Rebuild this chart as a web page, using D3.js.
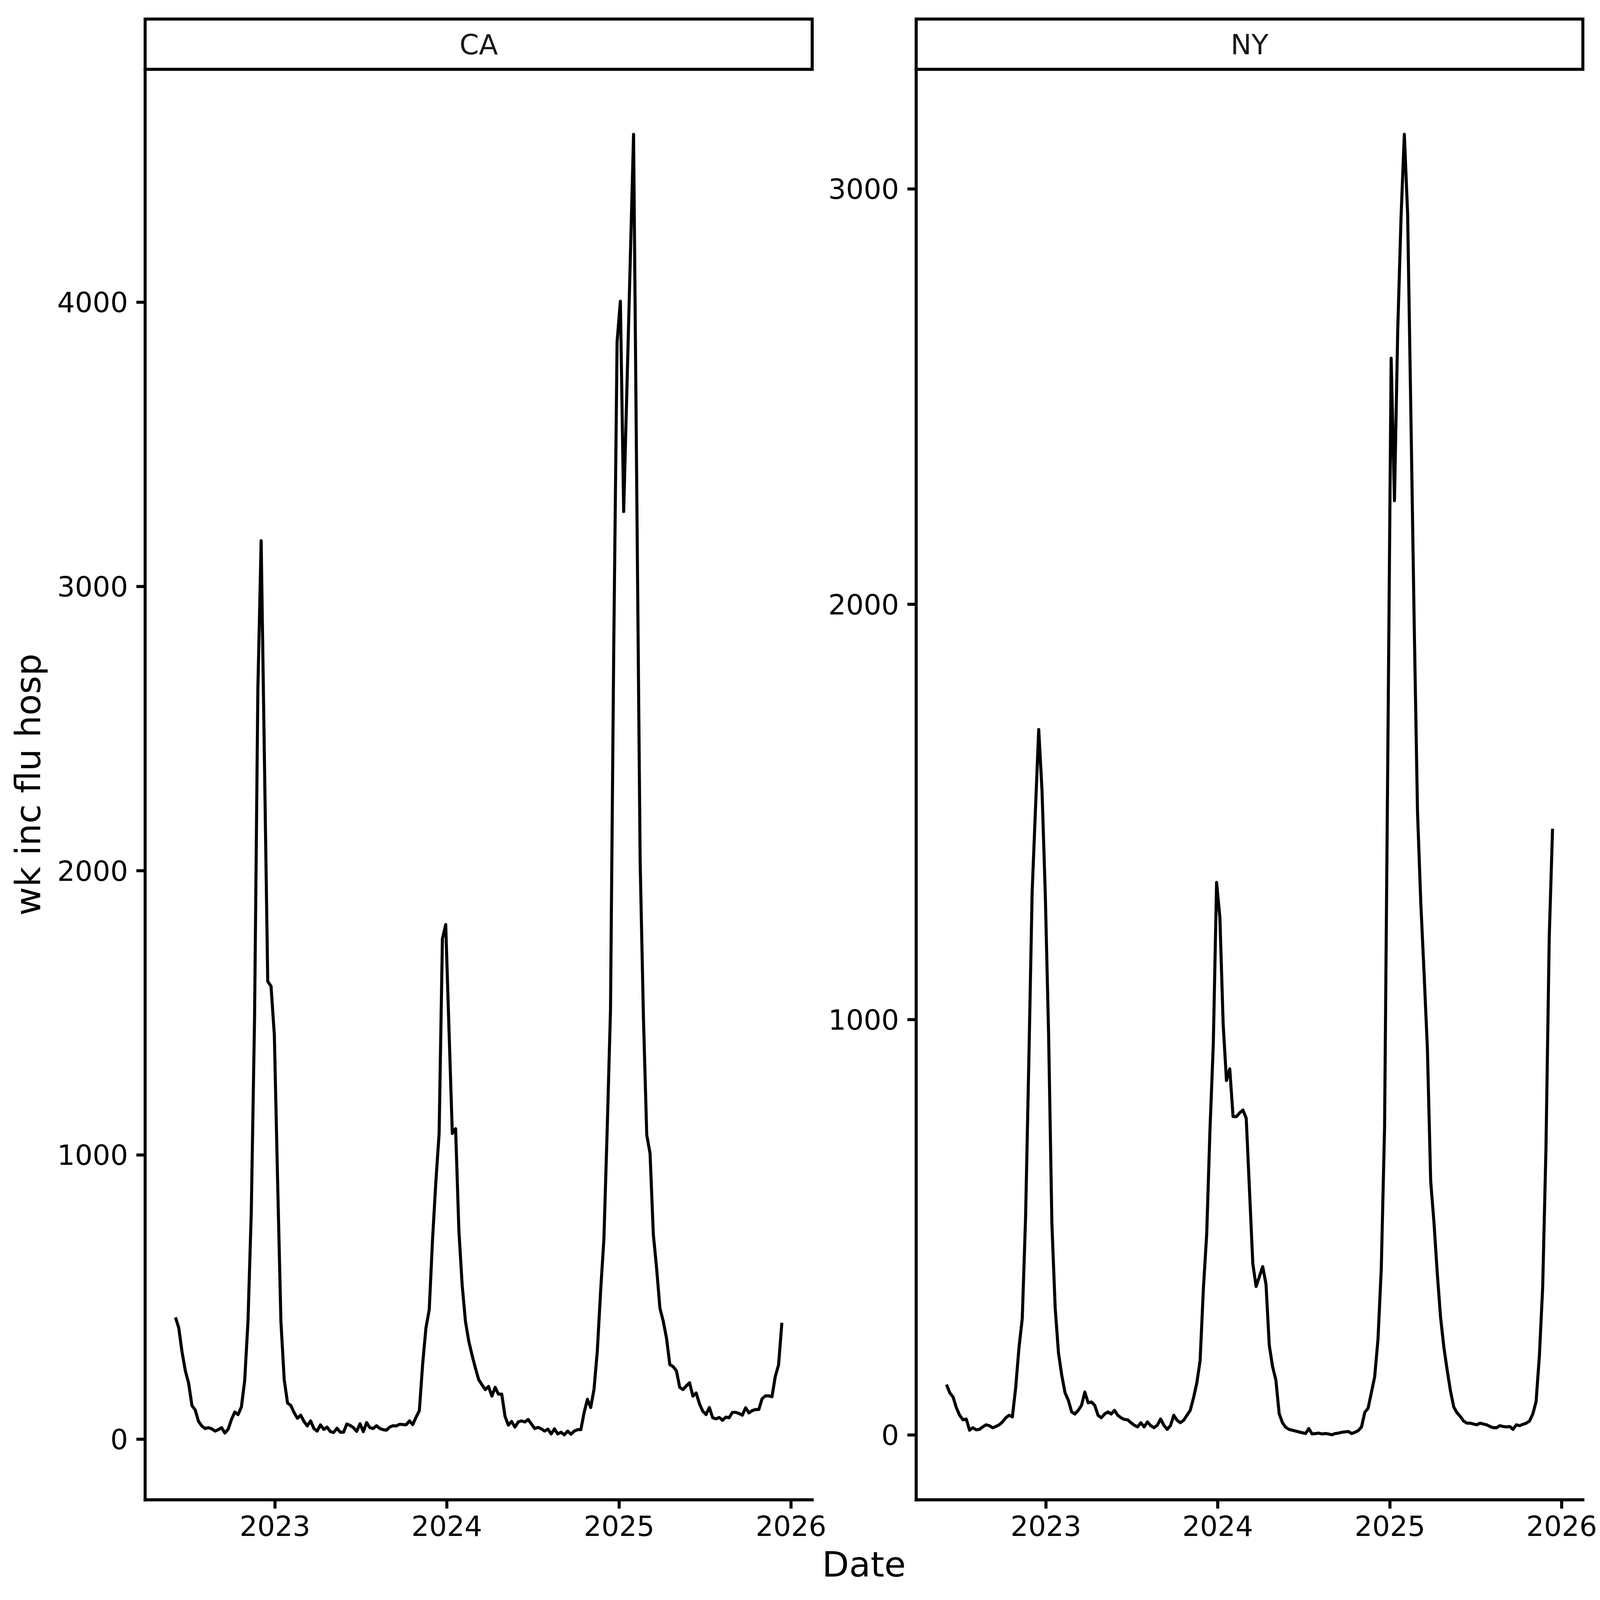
<!DOCTYPE html>
<html>
<head>
<meta charset="utf-8">
<script src="https://cdn.jsdelivr.net/npm/d3@7"></script>
<style>
  html, body { margin: 0; padding: 0; background: #fff; overflow: hidden; }
  #chart svg { display: block; width: 100vw; height: 100vh; }
  text { font-family: "DejaVu Sans", sans-serif; }
</style>
</head>
<body>
<div id="chart"></div>
<script>
// weekly series, first week ending 2022-06-04
const firstWeek = "2022-06-04";

const caValues = [
  428, 391, 306, 240, 196, 118, 102, 62, 46, 37,
  40, 36, 28, 33, 40, 21, 35, 69, 95, 86,
  113, 205, 413, 797, 1482, 2636, 3160, 2385, 1610, 1593,
  1422, 904, 413, 209, 127, 118, 93, 73, 84, 62,
  46, 64, 37, 28, 50, 34, 42, 26, 23, 38,
  24, 24, 53, 48, 40, 27, 54, 26, 58, 40,
  37, 47, 37, 33, 31, 42, 47, 46, 52, 51,
  50, 64, 51, 77, 100, 263, 391, 455, 701, 904,
  1075, 1760, 1810, 1440, 1075, 1092, 733, 541, 413, 344,
  295, 250, 209, 191, 174, 185, 151, 182, 158, 158,
  80, 49, 62, 42, 60, 64, 60, 69, 53, 37,
  41, 36, 28, 35, 18, 36, 18, 24, 15, 28,
  17, 28, 33, 33, 93, 140, 111, 175, 310, 520,
  704, 1090, 1508, 2800, 3860, 4003, 3263, 3705, 4147, 4590,
  3300, 2030, 1480, 1070, 1005, 720, 600, 460, 415, 355,
  262, 255, 240, 182, 174, 187, 198, 151, 162, 124,
  98, 86, 111, 75, 71, 76, 66, 77, 75, 94,
  94, 90, 84, 110, 92, 100, 104, 104, 142, 152,
  152, 149, 220, 261, 409
];

const nyValues = [
  121, 101, 91, 65, 47, 36, 38, 11, 17, 12,
  13, 19, 24, 22, 17, 20, 24, 31, 41, 47,
  43, 113, 209, 280, 520, 900, 1306, 1504, 1698, 1551,
  1300, 964, 508, 305, 197, 143, 101, 83, 55, 50,
  59, 71, 103, 77, 79, 71, 47, 41, 50, 55,
  50, 59, 47, 41, 37, 36, 29, 23, 19, 29,
  19, 31, 22, 17, 23, 38, 23, 13, 22, 47,
  35, 29, 35, 47, 59, 89, 125, 179, 353, 484,
  736, 940, 1330, 1246, 988, 853, 881, 766, 766, 775,
  782, 762, 587, 412, 357, 381, 405, 363, 215, 164,
  132, 51, 29, 18, 13, 11, 9, 7, 5, 3,
  15, 2, 3, 4, 2, 3, 2, 0, 3, 4,
  6, 7, 8, 3, 6, 10, 19, 54, 64, 102,
  140, 230, 400, 740, 1650, 2592, 2249, 2661, 2931, 3131,
  2940, 2450, 1950, 1500, 1280, 1110, 930, 611, 511, 389,
  283, 211, 156, 106, 67, 53, 44, 33, 28, 28,
  26, 24, 28, 26, 24, 20, 17, 17, 22, 20,
  19, 20, 13, 24, 22, 25, 28, 33, 50, 80,
  190, 355, 690, 1200, 1459
];

const yearTicks = [2023, 2024, 2025, 2026];
const caTicks = [0, 1000, 2000, 3000, 4000];
const nyTicks = [0, 1000, 2000, 3000];

const W = 4200, H = 4200;
const panelTop = 182, panelBottom = 3937;
const lineW = 8;

const svg = d3.select("#chart")
  .append("svg")
    .attr("viewBox", `0 0 ${W} ${H}`)
    .attr("preserveAspectRatio", "xMidYMid meet");

svg.append("rect").attr("width", W).attr("height", H).attr("fill", "#fff");

const start = d3.utcParse("%Y-%m-%d")(firstWeek);
const dates = caValues.map((_, i) => d3.utcDay.offset(start, 7 * i));

const panels = [
  {name: "CA", values: caValues, ticks: caTicks, left: 381, right: 2132},
  {name: "NY", values: nyValues, ticks: nyTicks, left: 2405, right: 4155}
];

// ggplot style 5% expansion
function expand(lo, hi) {
  const pad = (hi - lo) * 0.05;
  return [lo - pad, hi + pad];
}

const t0 = dates[0].getTime(), t1 = dates[dates.length - 1].getTime();
const xDom = expand(t0, t1).map(t => new Date(t));

panels.forEach(p => {
  const x = d3.scaleUtc()
    .domain(xDom)
    .range([p.left, p.right]);

  const y = d3.scaleLinear()
    .domain(expand(d3.min(p.values), d3.max(p.values)))
    .range([panelBottom, panelTop]);

  const g = svg.append("g");

  // series
  const data = p.values.map((v, i) => ({date: dates[i], value: v}));
  g.append("path")
    .datum(data)
    .attr("fill", "none")
    .attr("stroke", "#000")
    .attr("stroke-width", lineW)
    .attr("stroke-linejoin", "round")
    .attr("d", d3.line().x(d => x(d.date)).y(d => y(d.value)));

  // x axis
  const xAxis = g.append("g")
    .attr("transform", `translate(0,${panelBottom})`)
    .call(d3.axisBottom(x)
      .tickValues(yearTicks.map(yr => new Date(Date.UTC(yr, 0, 1))))
      .tickFormat(d3.utcFormat("%Y"))
      .tickSizeInner(23)
      .tickSizeOuter(0));
  xAxis.select(".domain").remove();
  xAxis.selectAll(".tick line").attr("stroke", "#000").attr("stroke-width", lineW);
  xAxis.selectAll(".tick text")
    .attr("y", 95)
    .attr("dy", 0)
    .attr("fill", "#000")
    .style("font-size", "73px");

  // y axis
  const yAxis = g.append("g")
    .attr("transform", `translate(${p.left},0)`)
    .call(d3.axisLeft(y)
      .tickValues(p.ticks)
      .tickFormat(d3.format("d"))
      .tickSizeInner(23)
      .tickSizeOuter(0));
  yAxis.select(".domain").remove();
  yAxis.selectAll(".tick line").attr("stroke", "#000").attr("stroke-width", lineW);
  yAxis.selectAll(".tick text")
    .attr("x", -45)
    .attr("dy", "0.36em")
    .attr("fill", "#000")
    .style("font-size", "73px");

  // axis lines
  g.append("line")
    .attr("x1", p.left).attr("x2", p.right)
    .attr("y1", panelBottom).attr("y2", panelBottom)
    .attr("stroke", "#000").attr("stroke-width", lineW)
    .attr("stroke-linecap", "square");
  g.append("line")
    .attr("x1", p.left).attr("x2", p.left)
    .attr("y1", panelTop).attr("y2", panelBottom)
    .attr("stroke", "#000").attr("stroke-width", lineW)
    .attr("stroke-linecap", "square");

  // facet strip
  g.append("rect")
    .attr("x", p.left)
    .attr("y", 50)
    .attr("width", p.right - p.left)
    .attr("height", panelTop - 50)
    .attr("fill", "#fff")
    .attr("stroke", "#000")
    .attr("stroke-width", lineW);
  g.append("text")
    .attr("x", (p.left + p.right) / 2)
    .attr("y", 143)
    .attr("text-anchor", "middle")
    .attr("fill", "#1a1a1a")
    .style("font-size", "73px")
    .text(p.name);
});

// axis titles
svg.append("text")
  .attr("x", (panels[0].left + panels[1].right) / 2)
  .attr("y", 4138)
  .attr("text-anchor", "middle")
  .attr("fill", "#000")
  .style("font-size", "92px")
  .text("Date");

svg.append("text")
  .attr("transform", `translate(106,${(panelTop + panelBottom) / 2}) rotate(-90)`)
  .attr("text-anchor", "middle")
  .attr("fill", "#000")
  .style("font-size", "92px")
  .text("wk inc flu hosp");
</script>
</body>
</html>
